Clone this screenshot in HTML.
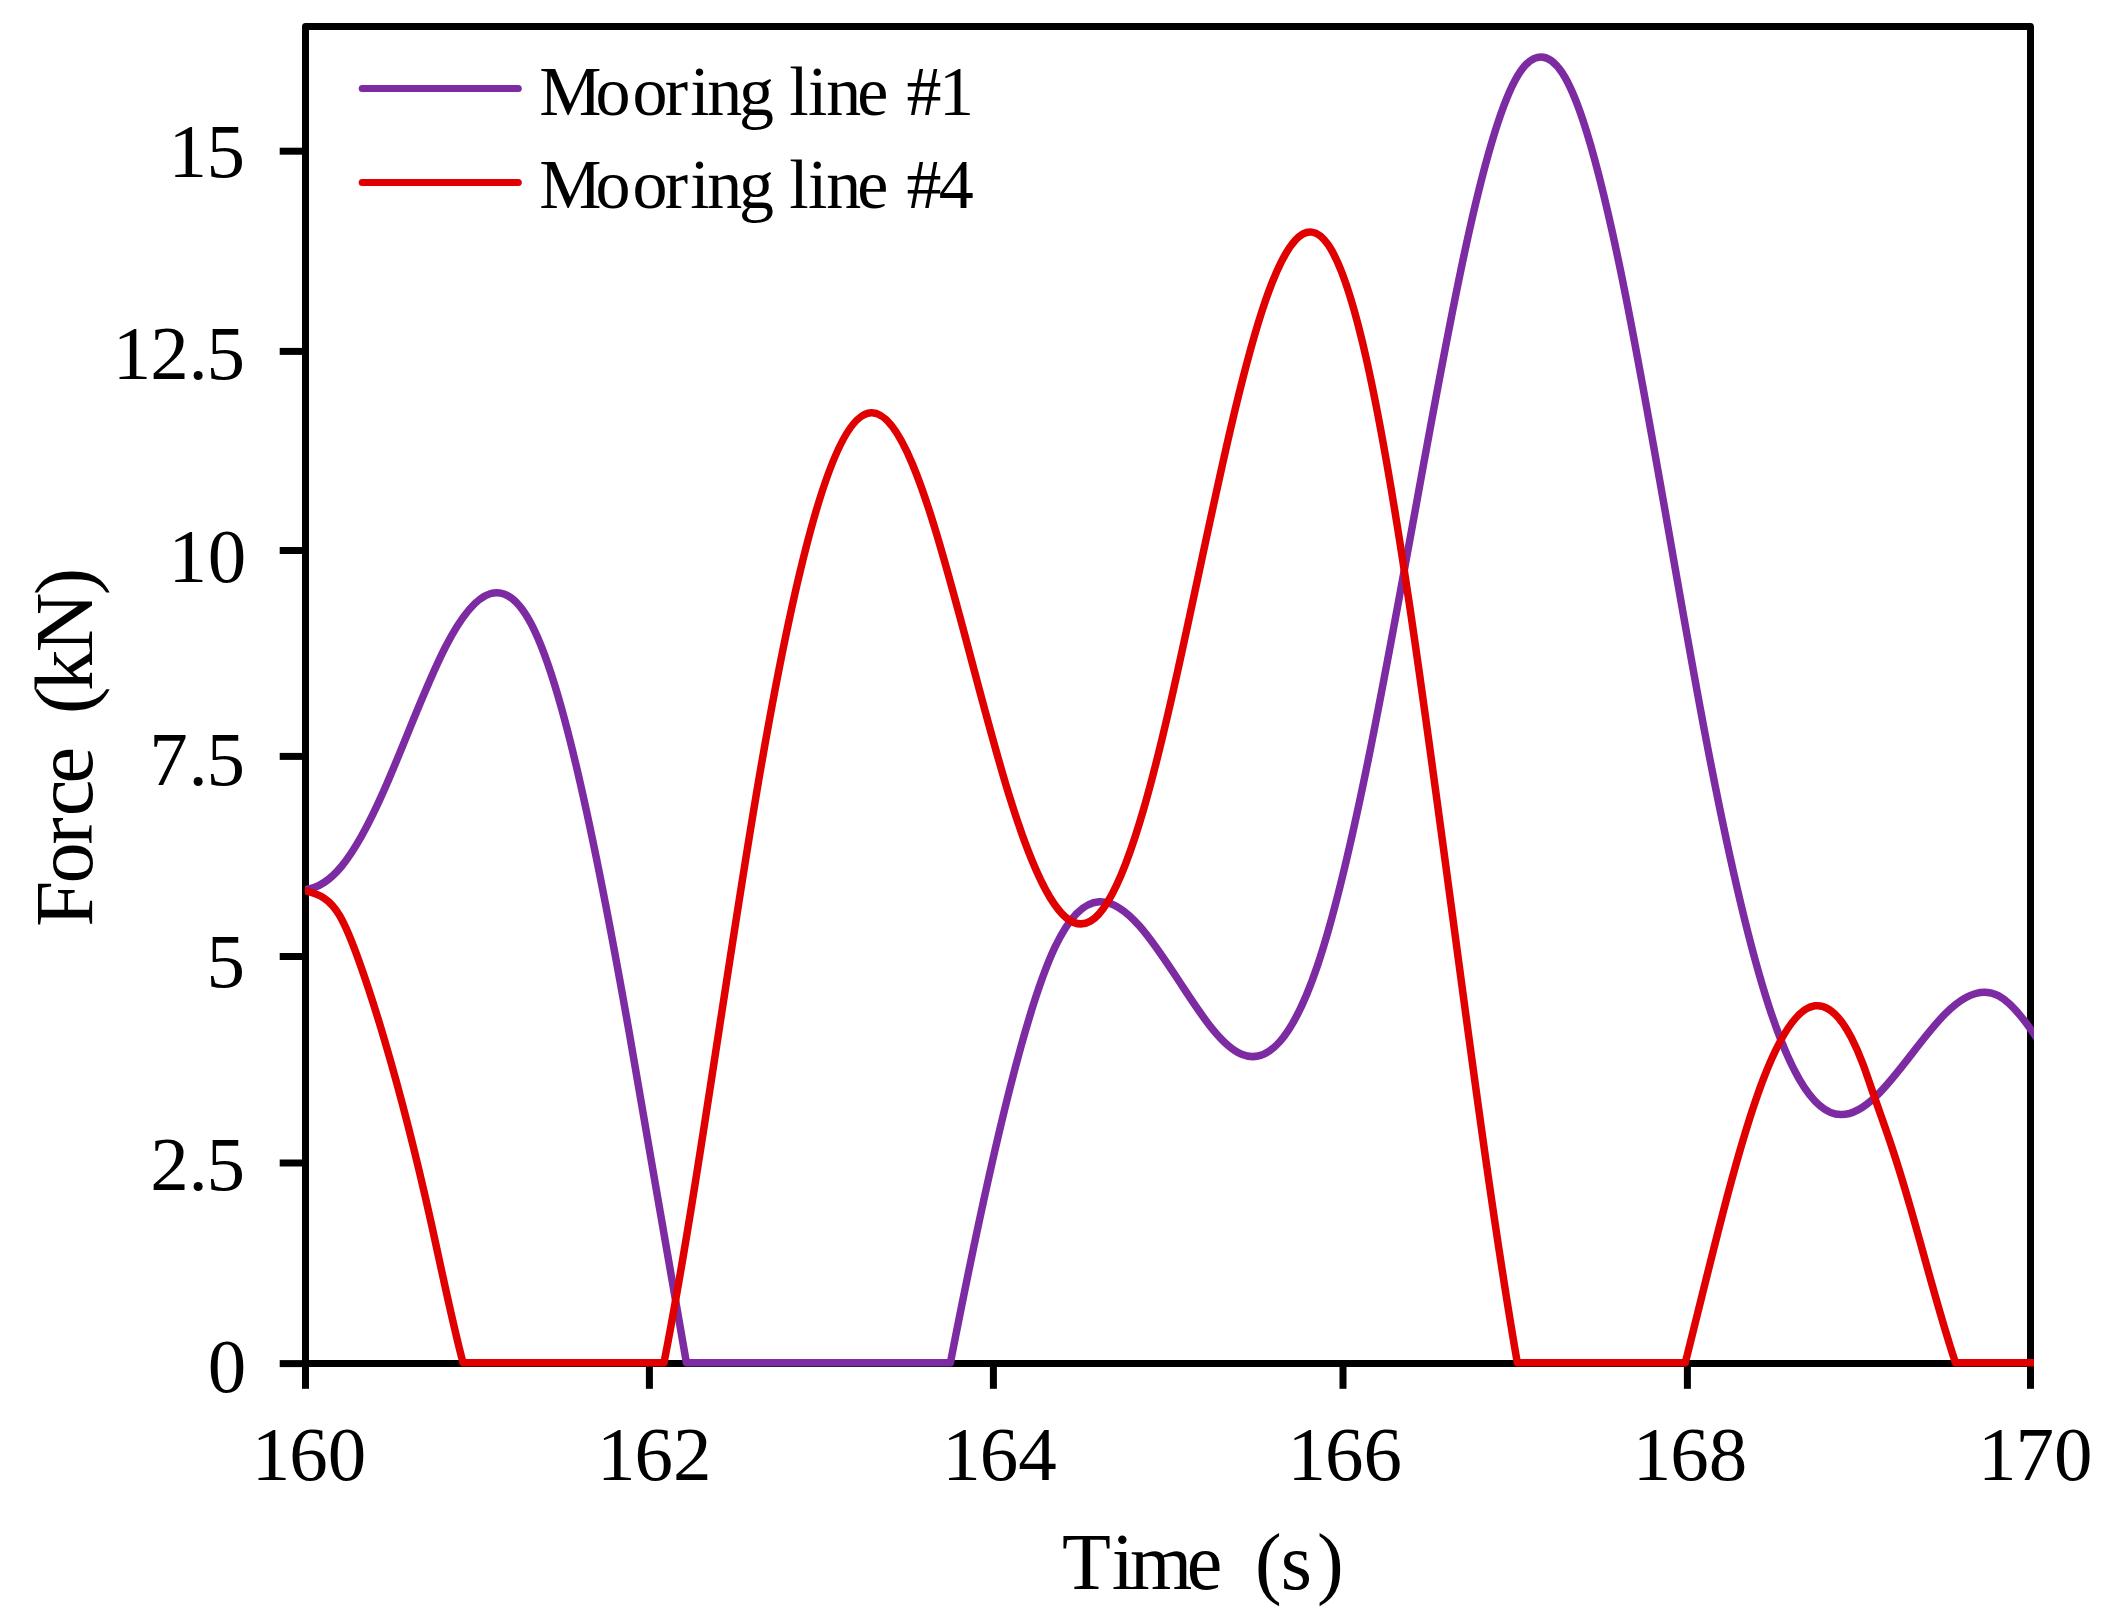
<!DOCTYPE html>
<html lang="en">
<head>
<meta charset="utf-8">
<title>Mooring line force</title>
<style>
html,body{margin:0;padding:0;background:#fff;}
body{width:2116px;height:1619px;overflow:hidden;}
svg{display:block;}
</style>
</head>
<body>
<svg xmlns="http://www.w3.org/2000/svg" width="2116" height="1619" viewBox="0 0 2116 1619">
<rect width="2116" height="1619" fill="#fff"/>
<g stroke="#000" stroke-width="7" fill="none" stroke-linecap="butt">
<path d="M305.5 1363.6 L305.5 26.5 L2030.5 26.5 L2030.5 1363.6 Z" stroke-linejoin="round"/>
<path d="M279.7 151.2 L305.5 151.2"/>
<path d="M279.7 351.4 L305.5 351.4"/>
<path d="M279.7 550.5 L305.5 550.5"/>
<path d="M279.7 756.4 L305.5 756.4"/>
<path d="M279.7 956.5 L305.5 956.5"/>
<path d="M279.7 1163.0 L305.5 1163.0"/>
<path d="M279.7 1363.6 L305.5 1363.6"/>
<path d="M305.5 1363.6 L305.5 1388.8"/>
<path d="M649.4 1363.6 L649.4 1388.8"/>
<path d="M993.4 1363.6 L993.4 1388.8"/>
<path d="M1343.0 1363.6 L1343.0 1388.8"/>
<path d="M1687.4 1363.6 L1687.4 1388.8"/>
<path d="M2030.5 1363.6 L2030.5 1388.8"/>
</g>
<g font-family="'Liberation Serif', 'Times New Roman', Times, serif" fill="#000" style="white-space:pre">
<text x="539.3 595.5 632.4 664.7 690.2 707.2 739.1 772.0 789.2 808.0 826.2 857.3 889.0 906.5 939.0" y="114.8" font-size="70">Mooring line #1</text>
<text x="539.3 595.5 632.4 664.7 690.2 707.2 739.1 772.0 789.2 808.0 826.2 857.3 889.0 906.5 938.7" y="207.9" font-size="70">Mooring line #4</text>
<text x="168.6 206.4" y="176.8" font-size="77">15</text>
<text x="112.7 150.3 188.6 206.4" y="379.4" font-size="77">12.5</text>
<text x="168.6 207.8" y="581.9" font-size="77">10</text>
<text x="149.3 188.6 206.4" y="784.5" font-size="77">7.5</text>
<text x="206.4" y="987.1" font-size="77">5</text>
<text x="150.3 188.6 206.4" y="1189.6" font-size="77">2.5</text>
<text x="207.7" y="1392.2" font-size="77">0</text>
<text x="251.7 289.2 327.7" y="1480.0" font-size="77">160</text>
<text x="596.9 634.4 672.9" y="1480.0" font-size="77">162</text>
<text x="942.2 979.7 1018.2" y="1480.0" font-size="77">164</text>
<text x="1287.4 1324.9 1363.4" y="1480.0" font-size="77">166</text>
<text x="1632.7 1670.2 1708.7" y="1480.0" font-size="77">168</text>
<text x="1977.9 2015.4 2053.9" y="1480.0" font-size="77">170</text>
<text x="1061.9 1111.7 1130.1 1186.8 1225.0 1255.1 1280.8 1317.1" y="1588.8" font-size="80">Time (s)</text>
<g transform="translate(92.4 0) rotate(-90)"><text x="-926.8 -883.4 -844.8 -816.3 -783.4 -745.0 -714.1 -690.7 -652.2 -595.3" y="0" font-size="82.5">Force (kN)</text></g>
</g>
<g fill="none" stroke-width="7" stroke-linecap="round">
<path d="M362.2 88.5 L518.3 88.5" stroke="#7d2ba3"/>
<path d="M362.2 182.5 L518.3 182.5" stroke="#e00000"/>
</g>
<clipPath id="pc"><rect x="305" y="0" width="1729" height="1619"/></clipPath>
<g fill="none" stroke-width="7.5" stroke-linecap="butt" stroke-linejoin="round" clip-path="url(#pc)">
<path d="M300.00 889.90 L305.00 889.50 C317.13 888.54 329.27 881.10 341.40 866.49 C355.53 849.47 369.67 822.72 383.80 790.77 C404.43 744.12 425.07 686.38 445.70 646.44 C475.27 589.20 504.83 568.49 534.40 630.35 C543.37 649.11 552.33 675.47 561.30 707.40 C583.90 787.87 606.50 903.77 629.10 1031.90 C648.20 1140.19 667.30 1257.21 686.40 1362.70 L950.40 1362.70 C970.10 1261.59 989.80 1167.88 1009.50 1089.91 C1024.73 1029.62 1039.97 978.75 1055.20 946.72 C1069.83 915.95 1084.47 902.56 1099.10 901.73 C1127.07 900.14 1155.03 944.41 1183.00 987.17 C1202.53 1017.04 1222.07 1046.17 1241.60 1054.33 C1266.93 1064.92 1292.27 1040.24 1317.60 965.23 C1352.13 862.97 1386.67 667.18 1421.20 477.37 C1453.40 300.39 1485.60 128.60 1517.80 75.51 C1525.50 62.81 1533.20 56.90 1540.90 56.90 C1547.97 56.89 1555.03 61.86 1562.10 72.65 C1568.93 83.08 1575.77 98.96 1582.60 119.24 C1595.50 157.53 1608.40 211.49 1621.30 274.22 C1649.17 409.72 1677.03 586.14 1704.90 733.09 C1726.27 845.76 1747.63 941.11 1769.00 1006.55 C1779.07 1037.39 1789.13 1061.58 1799.20 1079.01 C1813.07 1103.03 1826.93 1114.21 1840.80 1114.61 C1875.67 1115.63 1910.53 1048.55 1945.40 1013.62 C1963.03 995.95 1980.67 986.51 1998.30 995.68 C2010.20 1001.87 2022.10 1016.54 2034.00 1034.00 L2040.00 1042.81" stroke="#7d2ba3"/>
<path d="M300.00 888.93 L305.00 890.50 C316.60 894.15 328.20 896.03 339.80 915.86 C346.10 926.63 352.40 942.69 358.70 960.24 C367.47 984.66 376.23 1011.96 385.00 1041.70 C400.17 1093.13 415.33 1151.85 430.50 1219.93 C441.33 1268.55 452.17 1321.95 463.00 1362.70 L664.00 1362.68 C695.00 1204.59 726.00 973.17 757.00 790.28 C795.10 565.50 833.20 414.02 871.30 412.74 C885.07 412.28 898.83 431.43 912.60 464.44 C919.37 480.67 926.13 500.24 932.90 521.88 C958.50 603.76 984.10 715.20 1009.70 797.20 C1036.70 883.68 1063.70 937.40 1090.70 921.05 C1102.30 914.03 1113.90 894.07 1125.50 864.03 C1131.67 848.07 1137.83 829.25 1144.00 807.89 C1183.43 671.32 1222.87 430.74 1262.30 310.11 C1284.30 242.81 1306.30 212.85 1328.30 244.99 C1341.10 263.69 1353.90 303.42 1366.70 360.46 C1416.90 584.15 1467.10 1074.19 1517.30 1362.70 L1685.30 1362.70 C1709.17 1267.98 1733.03 1165.11 1756.90 1096.71 C1776.23 1041.30 1795.57 1008.50 1814.90 1005.83 C1827.13 1004.14 1839.37 1014.52 1851.60 1038.13 C1855.43 1045.53 1859.27 1054.23 1863.10 1064.49 C1866.30 1073.06 1869.50 1082.73 1872.70 1092.05 C1878.60 1109.23 1884.50 1125.25 1890.40 1142.81 C1897.23 1163.15 1904.07 1185.56 1910.90 1209.29 C1925.77 1260.91 1940.63 1318.82 1955.50 1362.70 L2040.00 1362.70" stroke="#e00000"/>
</g>
</svg>
</body>
</html>
